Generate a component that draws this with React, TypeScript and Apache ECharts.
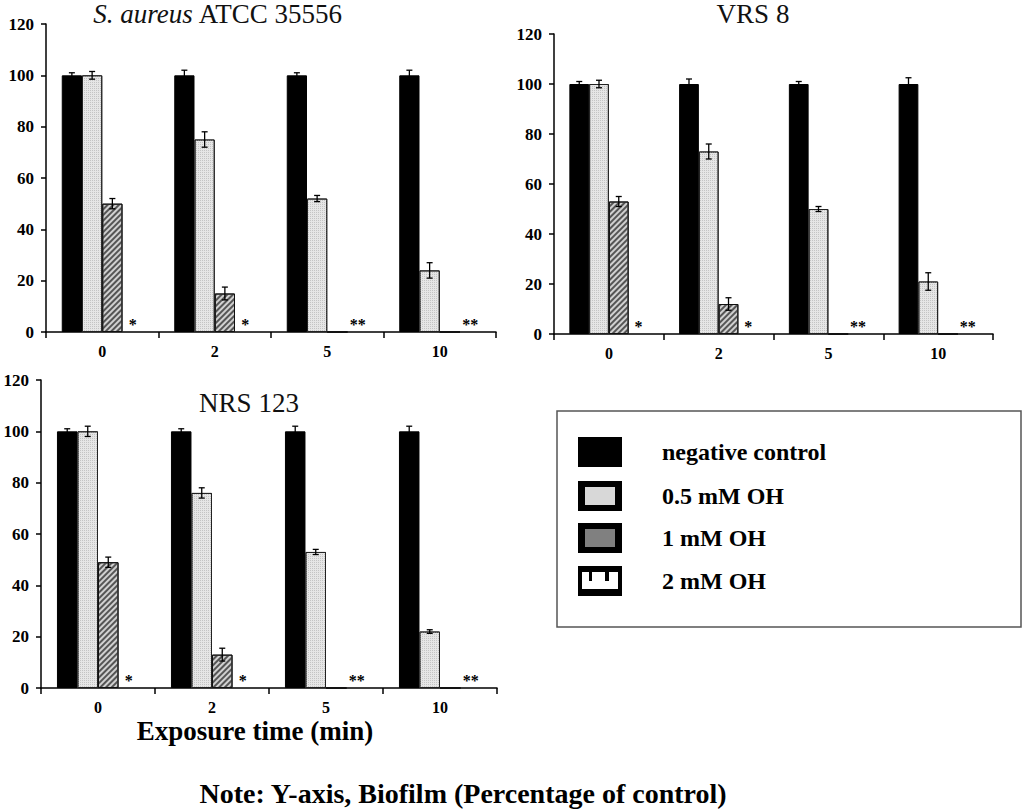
import React, { useEffect, useRef } from "react";
import * as echarts from "echarts";

const categories = ["0", "2", "5", "10"];
const seriesNames = ["negative control", "0.5 mM OH", "1 mM OH", "2 mM OH"];
const starMarks = ["*", "*", "**", "**"];

// Panel A: S. aureus ATCC 35556
const aNeg = [100, 100, 100, 100];
const aNegErr = [1, 2, 1, 2];
const aHalf = [100, 75, 52, 24];
const aHalfErr = [1.5, 3, 1.2, 3];
const aOne = [50, 15, 0, 0];
const aOneErr = [2, 2.5, 0, 0];
const aTwo = [0, 0, 0, 0];

// Panel B: VRS 8
const bNeg = [100, 100, 100, 100];
const bNegErr = [1, 2, 1, 2.5];
const bHalf = [100, 73, 50, 21];
const bHalfErr = [1.5, 3, 1, 3.5];
const bOne = [53, 12, 0, 0];
const bOneErr = [2, 2.5, 0, 0];
const bTwo = [0, 0, 0, 0];

// Panel C: NRS 123
const cNeg = [100, 100, 100, 100];
const cNegErr = [1, 1, 2, 2];
const cHalf = [100, 76, 53, 22];
const cHalfErr = [2, 2, 1, 0.7];
const cOne = [49, 13, 0, 0];
const cOneErr = [2, 2.5, 0, 0];
const cTwo = [0, 0, 0, 0];

const yTicks = { min: 0, max: 120, interval: 20 };

const SERIF = "Liberation Serif";
const GAP = 0.28;

type Panel = {
  values: number[][];
  errors: number[][];
  grid: { left: number; top: number; width: number; height: number };
};

const panels: Panel[] = [
  {
    values: [aNeg, aHalf, aOne, aTwo],
    errors: [aNegErr, aHalfErr, aOneErr, [0, 0, 0, 0]],
    grid: { left: 46, top: 24, width: 450, height: 308 },
  },
  {
    values: [bNeg, bHalf, bOne, bTwo],
    errors: [bNegErr, bHalfErr, bOneErr, [0, 0, 0, 0]],
    grid: { left: 554, top: 34, width: 439, height: 300 },
  },
  {
    values: [cNeg, cHalf, cOne, cTwo],
    errors: [cNegErr, cHalfErr, cOneErr, [0, 0, 0, 0]],
    grid: { left: 41, top: 380, width: 456, height: 308 },
  },
];

function barStyle(s: number): any {
  if (s === 0) return { color: "#000", borderColor: "#000", borderWidth: 1 };
  if (s === 1)
    return {
      color: "#e6e6e6",
      borderColor: "#222",
      borderWidth: 1,
      decal: {
        symbol: "rect",
        symbolSize: 1,
        color: "#c4c4c4",
        dashArrayX: [1, 1],
        dashArrayY: [1, 1],
        rotation: 0,
      },
    };
  if (s === 2)
    return {
      color: "#d0d0d0",
      borderColor: "#111",
      borderWidth: 1,
      decal: {
        symbol: "rect",
        symbolSize: 1,
        color: "#555",
        dashArrayX: [1, 0],
        dashArrayY: [1.5, 2],
        rotation: -Math.PI / 4,
      },
    };
  return { color: "#fff", borderWidth: 0 };
}

function buildOption(): any {
  const grid: any[] = [];
  const xAxis: any[] = [];
  const yAxis: any[] = [];
  const series: any[] = [];

  panels.forEach((p, gi) => {
    grid.push({ ...p.grid, containLabel: false });
    xAxis.push({
      type: "category",
      gridIndex: gi,
      data: categories,
      axisLine: { lineStyle: { color: "#000", width: 1.5 } },
      axisTick: { show: true, length: 6, lineStyle: { color: "#000", width: 1.5 } },
      axisLabel: {
        color: "#000",
        fontFamily: SERIF,
        fontWeight: "bold",
        fontSize: 16,
        margin: 11,
      },
      splitLine: { show: false },
    });
    yAxis.push({
      type: "value",
      gridIndex: gi,
      min: yTicks.min,
      max: yTicks.max,
      interval: yTicks.interval,
      axisLine: { show: true, lineStyle: { color: "#000", width: 1.5 } },
      axisTick: { show: true, length: 5, lineStyle: { color: "#000", width: 1.5 } },
      axisLabel: {
        color: "#000",
        fontFamily: SERIF,
        fontWeight: "bold",
        fontSize: 17,
        margin: 12,
      },
      splitLine: { show: false },
    });

    p.values.forEach((vals, s) => {
      series.push({
        type: "bar",
        name: seriesNames[s],
        xAxisIndex: gi,
        yAxisIndex: gi,
        data: vals,
        barGap: "0%",
        barCategoryGap: GAP * 100 + "%",
        itemStyle: barStyle(s),
        label:
          s === 3
            ? {
                show: true,
                position: "top",
                distance: 0,
                formatter: (d: any) => starMarks[d.dataIndex],
                color: "#000",
                fontFamily: SERIF,
                fontWeight: "bold",
                fontSize: 16,
              }
            : { show: false },
      });
    });

    const errData: any[] = [];
    p.values.forEach((vals, s) => {
      vals.forEach((v, ci) => {
        const e = p.errors[s][ci];
        if (e > 0) errData.push([ci, s, v, e]);
      });
    });
    series.push({
      type: "custom",
      xAxisIndex: gi,
      yAxisIndex: gi,
      data: errData,
      encode: { x: 0, y: 2 },
      z: 10,
      silent: true,
      renderItem: (params: any, api: any) => {
        const ci = api.value(0);
        const s = api.value(1);
        const v = api.value(2);
        const e = api.value(3);
        const catW = api.size([1, 0])[0];
        const bw = (catW * (1 - GAP)) / 4;
        const cx = api.coord([ci, v])[0] + (s - 1.5) * bw;
        const yTop = api.coord([ci, v + e])[1];
        const yBot = api.coord([ci, v - e])[1];
        const cap = 3;
        const st = { stroke: "#000", lineWidth: 1.3 };
        return {
          type: "group",
          children: [
            { type: "line", shape: { x1: cx, y1: yTop, x2: cx, y2: yBot }, style: st },
            { type: "line", shape: { x1: cx - cap, y1: yTop, x2: cx + cap, y2: yTop }, style: st },
            { type: "line", shape: { x1: cx - cap, y1: yBot, x2: cx + cap, y2: yBot }, style: st },
          ],
        };
      },
    });
  });

  const legendX = 578;
  const legendRows = [452, 496, 538, 581];
  const sw = 44;
  const sh = 30;
  const legendChildren: any[] = [
    {
      type: "rect",
      shape: { x: 557, y: 411, width: 464, height: 216 },
      style: { fill: "#fff", stroke: "#555", lineWidth: 1.5 },
    },
  ];
  legendRows.forEach((cy, i) => {
    const y0 = cy - sh / 2;
    legendChildren.push({
      type: "rect",
      shape: { x: legendX, y: y0, width: sw, height: sh },
      style: { fill: "#000" },
    });
    if (i === 1) {
      legendChildren.push({
        type: "rect",
        shape: { x: legendX + 7, y: y0 + 6, width: sw - 14, height: sh - 12 },
        style: { fill: "#d8d8d8" },
      });
    } else if (i === 2) {
      legendChildren.push({
        type: "rect",
        shape: { x: legendX + 7, y: y0 + 6, width: sw - 14, height: sh - 12 },
        style: { fill: "#808080" },
      });
    } else if (i === 3) {
      legendChildren.push({
        type: "rect",
        shape: { x: legendX + 4, y: y0 + 6, width: sw - 8, height: sh - 13 },
        style: { fill: "#fff" },
      });
      legendChildren.push({
        type: "rect",
        shape: { x: legendX + 11, y: y0 + 6, width: 3, height: 9 },
        style: { fill: "#000" },
      });
      legendChildren.push({
        type: "rect",
        shape: { x: legendX + 27, y: y0 + 6, width: 4, height: 9 },
        style: { fill: "#000" },
      });
    }
    legendChildren.push({
      type: "text",
      x: 662,
      y: cy,
      style: {
        text: seriesNames[i],
        fill: "#000",
        fontFamily: SERIF,
        fontWeight: "bold",
        fontSize: 24,
        textAlign: "left",
        textVerticalAlign: "middle",
      },
    });
  });

  const titleStyle = (text: string, x: number, y: number, rich?: any) => ({
    type: "text",
    x,
    y,
    style: {
      text,
      fill: "#111",
      fontFamily: SERIF,
      fontSize: 27,
      textAlign: "center",
      textVerticalAlign: "middle",
      rich,
    },
  });

  const graphic: any[] = [
    ...legendChildren,
    titleStyle("{i|S. aureus} ATCC 35556", 218, 14, {
      i: { fontStyle: "italic", fontFamily: SERIF, fontSize: 27, fill: "#111" },
    }),
    titleStyle("VRS 8", 753, 14),
    titleStyle("NRS 123", 249, 403),
    {
      type: "text",
      x: 255,
      y: 731,
      style: {
        text: "Exposure time (min)",
        fill: "#000",
        fontFamily: SERIF,
        fontWeight: "bold",
        fontSize: 27,
        textAlign: "center",
        textVerticalAlign: "middle",
      },
    },
    {
      type: "text",
      x: 463,
      y: 793,
      style: {
        text: "Note: Y-axis, Biofilm (Percentage of control)",
        fill: "#000",
        fontFamily: SERIF,
        fontWeight: "bold",
        fontSize: 28,
        textAlign: "center",
        textVerticalAlign: "middle",
      },
    },
  ];

  return {
    animation: false,
    backgroundColor: "#fff",
    grid,
    xAxis,
    yAxis,
    series,
    graphic,
  };
}

export default function App() {
  const ref = useRef<HTMLDivElement>(null);
  useEffect(() => {
    document.body.style.margin = "0";
    if (!ref.current) return;
    const chart = echarts.init(ref.current, undefined, { renderer: "svg" });
    chart.setOption(buildOption());
    return () => chart.dispose();
  }, []);
  return <div ref={ref} style={{ width: 1024, height: 809 }} />;
}
